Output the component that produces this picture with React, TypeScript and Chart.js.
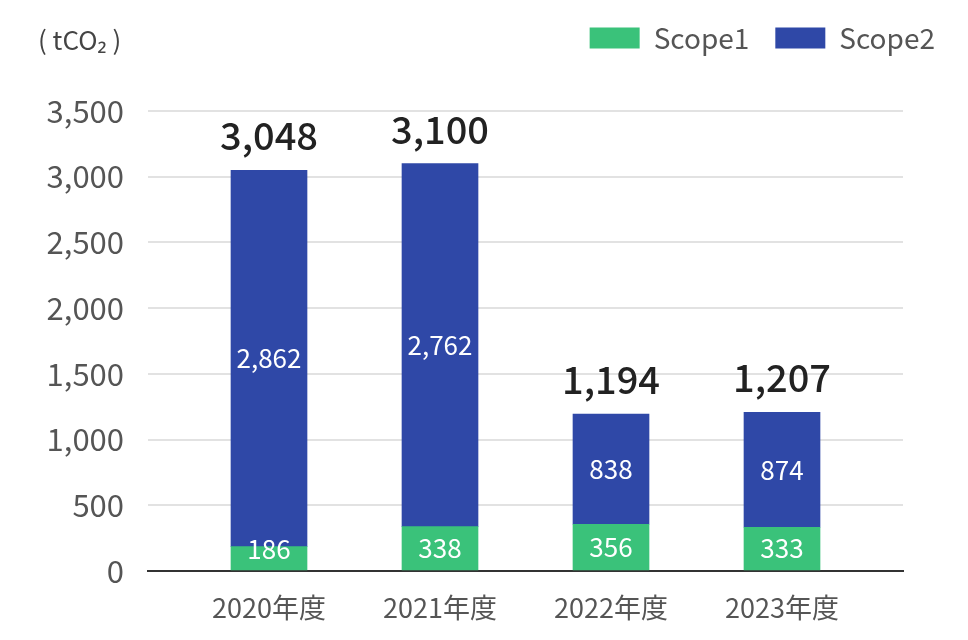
import { useEffect, useRef } from 'react';
import { Chart, registerables } from 'chart.js';

Chart.register(...registerables);

const categories = ['2020年度', '2021年度', '2022年度', '2023年度'];
const scope1 = [186, 338, 356, 333];
const scope2 = [2862, 2762, 838, 874];
const seriesNames = ['Scope1', 'Scope2'];
const seriesColors = ['#3ac27a', '#2f48a7'];
const yMin = 0;
const yMax = 3500;
const yStep = 500;
const unitLabel = '( tCO₂ )';

const FONT = "'Noto Sans CJK JP', 'Noto Sans', sans-serif";
const fmt = (v: number) => Number(v).toLocaleString('en-US');

const labelPlugin = {
  id: 'barLabels',
  afterDatasetsDraw(chart: any) {
    const ctx = chart.ctx;
    ctx.save();
    ctx.textAlign = 'center';
    ctx.textBaseline = 'middle';
    ctx.fillStyle = '#ffffff';
    ctx.font = `400 26px ${FONT}`;
    chart.data.datasets.forEach((ds: any, d: number) => {
      const meta = chart.getDatasetMeta(d);
      meta.data.forEach((bar: any, i: number) => {
        const { x, y, base } = bar.getProps(['x', 'y', 'base'], true);
        let cy = (y + base) / 2;
        if (d === 0) cy = Math.min(cy, base - 21);
        ctx.fillText(fmt(ds.data[i].y), x, cy);
      });
    });
    const last = chart.getDatasetMeta(chart.data.datasets.length - 1);
    ctx.fillStyle = '#222222';
    ctx.font = `500 38px ${FONT}`;
    ctx.textBaseline = 'alphabetic';
    last.data.forEach((bar: any, i: number) => {
      const total = scope1[i] + scope2[i];
      ctx.fillText(fmt(total), bar.x, bar.y - 20);
    });
    ctx.textAlign = 'left';
    ctx.textBaseline = 'middle';
    ctx.fillStyle = '#444444';
    ctx.font = `400 26px ${FONT}`;
    ctx.fillText(unitLabel, 38, 40);
    ctx.restore();
  },
};

export default function App() {
  const ref = useRef<HTMLCanvasElement>(null);
  useEffect(() => {
    const chart = new Chart(ref.current as HTMLCanvasElement, {
      type: 'bar',
      data: {
        datasets: [
          {
            label: seriesNames[0],
            data: scope1.map((v, i) => ({ x: i, y: v })),
            backgroundColor: seriesColors[0],
            barThickness: 76,
          },
          {
            label: seriesNames[1],
            data: scope2.map((v, i) => ({ x: i, y: v })),
            backgroundColor: seriesColors[1],
            barThickness: 76,
          },
        ],
      } as any,
      options: {
        responsive: false,
        devicePixelRatio: 1,
        animation: false,
        layout: { padding: { top: -2, left: 0, right: 7, bottom: 0 } },
        plugins: {
          tooltip: { enabled: false },
          legend: {
            position: 'top',
            align: 'end',
            labels: {
              font: { family: FONT, size: 28 },
              color: '#555555',
              boxWidth: 50,
              boxHeight: 21,
              padding: 26,
            },
          },
        },
        scales: {
          x: {
            type: 'linear',
            position: 'bottom',
            stacked: true,
            offset: false,
            min: -0.7076,
            max: 3.7076,
            grid: { display: false, drawTicks: false },
            border: { display: true, color: '#333333', width: 2 },
            afterBuildTicks: (scale: any) => {
              scale.ticks = categories.map((_, i) => ({ value: i }));
            },
            afterFit: (scale: any) => {
              scale.height = 69;
            },
            ticks: {
              autoSkip: false,
              maxRotation: 0,
              padding: 21,
              color: '#555555',
              font: { family: FONT, size: 27 },
              callback: (value: any) => categories[value as number] ?? '',
            },
          },
          xTop: {
            type: 'linear',
            position: 'top',
            display: true,
            grid: { display: false, drawTicks: false },
            border: { display: false },
            ticks: { display: false },
            afterFit: (scale: any) => {
              scale.height = 49;
            },
          },
          y: {
            type: 'linear',
            position: 'left',
            stacked: true,
            min: yMin,
            max: yMax,
            grid: { color: '#e2e2e2', lineWidth: 2, drawTicks: false },
            border: { display: false },
            afterFit: (scale: any) => {
              scale.width = 148;
            },
            ticks: {
              stepSize: yStep,
              padding: 24,
              color: '#555555',
              font: { family: FONT, size: 31 },
              callback: (value: any) => fmt(value as number),
            },
          },
          yRight: {
            type: 'linear',
            position: 'right',
            display: true,
            grid: { display: false, drawTicks: false },
            border: { display: false },
            ticks: { display: false },
            afterFit: (scale: any) => {
              scale.width = 58;
            },
          },
        },
      } as any,
      plugins: [labelPlugin],
    });
    return () => chart.destroy();
  }, []);
  return (
    <div style={{ position: 'fixed', left: 0, top: 0, width: 968, height: 640, background: '#ffffff' }}>
      <canvas ref={ref} width={968} height={640} style={{ display: 'block' }} />
    </div>
  );
}
